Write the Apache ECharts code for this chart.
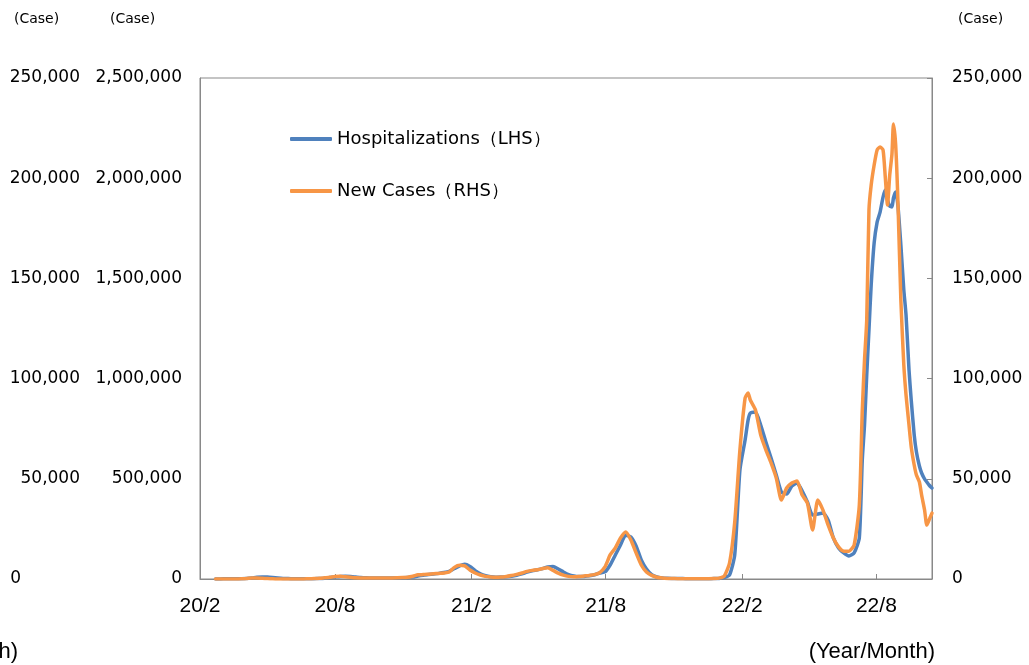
<!DOCTYPE html>
<html lang="en" style="height: 100%">
<head>
  <meta charset="utf-8">
</head>
<body style="height: 100%; margin: 0">
  <div id="container" style="width: 1029px; height: 665px"></div>

  <script type="text/javascript" src="https://fastly.jsdelivr.net/npm/echarts@6/dist/echarts.min.js"></script>

  <script type="text/javascript">
    // 日付（週次、2022年夏は細かめ）
    var dates = [
      '2020-02-22','2020-02-29','2020-03-07','2020-03-14','2020-03-21','2020-03-28','2020-04-04','2020-04-11','2020-04-18','2020-04-25',
      '2020-05-02','2020-05-09','2020-05-16','2020-05-23','2020-05-30','2020-06-06','2020-06-13','2020-06-20','2020-06-27','2020-07-04',
      '2020-07-11','2020-07-18','2020-07-25','2020-08-01','2020-08-08','2020-08-15','2020-08-22','2020-08-29','2020-09-05','2020-09-12',
      '2020-09-19','2020-09-26','2020-10-03','2020-10-10','2020-10-17','2020-10-24','2020-10-31','2020-11-07','2020-11-14','2020-11-21',
      '2020-11-28','2020-12-05','2020-12-12','2020-12-19','2020-12-26',
      '2021-01-02','2021-01-09','2021-01-16','2021-01-23','2021-01-30','2021-02-06','2021-02-13','2021-02-20','2021-02-27','2021-03-06',
      '2021-03-13','2021-03-20','2021-03-27','2021-04-03','2021-04-10','2021-04-17','2021-04-24','2021-05-01','2021-05-08','2021-05-15',
      '2021-05-22','2021-05-29','2021-06-05','2021-06-12','2021-06-19','2021-06-26','2021-07-03','2021-07-10','2021-07-17','2021-07-24',
      '2021-07-31','2021-08-07','2021-08-14','2021-08-21','2021-08-28','2021-09-04','2021-09-11','2021-09-18','2021-09-25','2021-10-02',
      '2021-10-09','2021-10-16','2021-10-23','2021-10-30','2021-11-06','2021-11-13','2021-11-20','2021-11-27','2021-12-04','2021-12-11',
      '2021-12-18','2021-12-25',
      '2022-01-01','2022-01-08','2022-01-15','2022-01-22','2022-01-29','2022-02-05','2022-02-09','2022-02-12','2022-02-19','2022-02-26',
      '2022-03-05','2022-03-12','2022-03-19','2022-03-26','2022-04-02','2022-04-09','2022-04-16','2022-04-23','2022-04-30','2022-05-07',
      '2022-05-14','2022-05-21','2022-05-28','2022-06-04','2022-06-11','2022-06-18','2022-06-25','2022-07-02','2022-07-09',
      '2022-07-13','2022-07-16','2022-07-19','2022-07-22','2022-07-25','2022-07-29','2022-08-02','2022-08-06','2022-08-10','2022-08-13',
      '2022-08-16','2022-08-19','2022-08-22','2022-08-24','2022-08-27','2022-08-30','2022-09-03','2022-09-07','2022-09-10','2022-09-14',
      '2022-09-17','2022-09-21','2022-09-24','2022-09-28','2022-10-01','2022-10-05','2022-10-08','2022-10-11','2022-10-15'
    ];

    // 入院治療等を要する者（左軸）
    var hospitalizations = [
      200, 500, 800, 900, 1200, 1800, 3000, 5500, 8500, 10000,
      9500, 7500, 5000, 3000, 2000, 1200, 900, 800, 1000, 1500,
      2500, 4000, 7000, 10000, 13000, 14000, 12500, 10000, 7500, 6000,
      5000, 5000, 5000, 5000, 5200, 5500, 6000, 7000, 10000, 15000,
      19000, 22000, 25000, 28000, 32000,
      38000, 52000, 66000, 73000, 62000, 42000, 26000, 16000, 11000, 9000,
      9500, 11000, 14000, 19000, 26000, 34000, 41000, 46000, 52000, 60000,
      62000, 50000, 35000, 22000, 15000, 12000, 13000, 16000, 21000, 30000,
      35000, 70000, 120000, 170000, 218000, 210000, 165000, 95000, 50000, 22000,
      10000, 5500, 3500, 2800, 2300, 1900, 1700, 1500, 1400, 1400,
      1600, 2000,
      3000, 8000, 20000, 120000, 544000, 694000, 793000, 828000, 833000, 768000,
      684000, 604000, 519000, 434000, 424000, 464000, 479000, 439000, 384000, 319000,
      324000, 329000, 294000, 205000, 155000, 130000, 115000, 130000, 205000,
      594000, 768000, 1018000, 1243000, 1467000, 1677000, 1781000, 1831000, 1906000, 1941000,
      1891000, 1861000, 1856000, 1901000, 1931000, 1866000, 1667000, 1442000, 1317000, 1043000,
      893000, 719000, 634000, 564000, 529000, 499000, 484000, 469000, 454000
    ];

    // 新規陽性者数（右軸）
    var newCases = [
      20, 30, 40, 40, 50, 150, 300, 550, 500, 350,
      200, 80, 30, 25, 40, 40, 50, 60, 100, 200,
      350, 600, 850, 1200, 1350, 1100, 900, 650, 550, 500,
      450, 500, 530, 550, 550, 600, 700, 900, 1400, 2100,
      2200, 2400, 2600, 2800, 3000,
      3500, 5800, 6800, 6500, 4500, 3000, 2000, 1300, 1000, 900,
      1000, 1300, 1700, 2300, 3000, 3800, 4300, 4600, 5200, 5600,
      4300, 2900, 1900, 1300, 1100, 1200, 1500, 1800, 2200, 3200,
      6000, 12000, 15500, 20500, 23500, 19500, 13000, 7000, 3500, 1800,
      900, 500, 300, 250, 150, 150, 130, 110, 120, 130,
      170, 250,
      450, 1500, 8000, 28400, 64400, 90300, 92800, 89300, 84300, 71900,
      64400, 57900, 50400, 39400, 45400, 47900, 48900, 41900, 37900, 24500,
      39400, 34400, 26900, 20500, 16000, 13900, 13900, 16900, 36900,
      84300, 109300, 129200, 184100, 196600, 206600, 214100, 215600, 214100, 200600,
      186600, 201600, 212000, 227000, 216600, 189100, 139200, 106800, 91800, 76800,
      65900, 56900, 51900, 48400, 41900, 34400, 26900, 29400, 32900
    ];

    var tickDates = ['2020-02-01', '2020-08-01', '2021-02-01', '2021-08-01', '2022-02-01', '2022-08-01'];

    var dom = document.getElementById('container');
    var myChart = echarts.init(dom, null, { renderer: 'canvas' });

    function toTime(s) {
      var p = s.split('-');
      return Date.UTC(+p[0], +p[1] - 1, +p[2]);
    }
    var tickValues = tickDates.map(toTime);

    var labelFont = 'DejaVu Sans';
    var narrowFont = "'Liberation Sans Narrow', 'Liberation Sans', sans-serif";
    var axisGray = '#898989';

    var option = {
      animation: false,
      backgroundColor: '#fff',
      grid: {
        left: 200,
        right: 97,
        top: 78,
        bottom: 86,
        show: true,
        borderColor: axisGray,
        borderWidth: 1
      },
      legend: {
        orient: 'vertical',
        left: 285,
        top: 124,
        itemWidth: 42,
        itemHeight: 4,
        itemGap: 32,
        icon: 'roundRect',
        textStyle: { fontFamily: labelFont, fontSize: 18, color: '#000', lineHeight: 20 },
        data: ['Hospitalizations（LHS）', 'New Cases（RHS）']
      },
      xAxis: {
        type: 'value',
        min: toTime('2020-02-01'),
        max: toTime('2022-10-15'),
        splitLine: { show: false },
        axisLine: { onZero: false, lineStyle: { color: axisGray } },
        axisTick: {
          show: true,
          inside: true,
          length: 5,
          lineStyle: { color: axisGray },
          customValues: tickValues
        },
        axisLabel: {
          customValues: tickValues,
          margin: 17,
          fontFamily: narrowFont,
          fontSize: 21,
          color: '#000',
          formatter: function (v) {
            var d = new Date(v);
            return String(d.getUTCFullYear()).slice(2) + '/' + (d.getUTCMonth() + 1);
          }
        }
      },
      yAxis: [
        {
          type: 'value',
          position: 'left',
          min: 0,
          max: 2500000,
          interval: 500000,
          splitLine: { show: false },
          axisLine: { show: true, lineStyle: { color: axisGray } },
          axisTick: { show: false },
          axisLabel: {
            margin: 18,
            fontFamily: labelFont,
            fontSize: 17,
            color: '#000',
            formatter: function (v) { return v.toLocaleString('en-US'); }
          }
        },
        {
          type: 'value',
          position: 'left',
          offset: 102,
          min: 0,
          max: 250000,
          interval: 50000,
          splitLine: { show: false },
          axisLine: { show: false },
          axisTick: { show: false },
          axisLabel: {
            margin: 18,
            fontFamily: labelFont,
            fontSize: 17,
            color: '#000',
            formatter: function (v) {
              return v === 0 ? '{z|0}' : v.toLocaleString('en-US');
            },
            rich: {
              z: { fontFamily: labelFont, fontSize: 17, color: '#000', padding: [0, 59, 0, 0] }
            }
          }
        },
        {
          type: 'value',
          position: 'right',
          min: 0,
          max: 250000,
          interval: 50000,
          splitLine: { show: false },
          axisLine: { show: true, lineStyle: { color: axisGray } },
          axisTick: { show: true, inside: true, length: 5, lineStyle: { color: axisGray } },
          axisLabel: {
            margin: 20,
            fontFamily: labelFont,
            fontSize: 17,
            color: '#000',
            formatter: function (v) { return v.toLocaleString('en-US'); }
          }
        }
      ],
      graphic: [
        { type: 'text', left: 14, top: 12, style: { text: '(Case)', font: '14px "DejaVu Sans"', fill: '#000' } },
        { type: 'text', left: 110, top: 12, style: { text: '(Case)', font: '14px "DejaVu Sans"', fill: '#000' } },
        { type: 'text', left: 958, top: 12, style: { text: '(Case)', font: '14px "DejaVu Sans"', fill: '#000' } },
        { type: 'text', right: 94, top: 641, style: { text: '(Year/Month)', font: '22px ' + narrowFont, fill: '#000' } },
        { type: 'text', x: 18, y: 641, style: { text: '(Year/Month)', align: 'right', font: '22px ' + narrowFont, fill: '#000' } }
      ],
      series: [
        {
          name: 'Hospitalizations（LHS）',
          type: 'line',
          yAxisIndex: 0,
          showSymbol: false,
          smooth: 0.2,
          color: '#4F81BD',
          lineStyle: { width: 3.5, cap: 'round', join: 'round' },
          data: dates.map(function (d, i) { return [toTime(d), hospitalizations[i]]; })
        },
        {
          name: 'New Cases（RHS）',
          type: 'line',
          yAxisIndex: 2,
          showSymbol: false,
          smooth: 0.2,
          color: '#F79646',
          lineStyle: { width: 3.5, cap: 'round', join: 'round' },
          data: dates.map(function (d, i) { return [toTime(d), newCases[i]]; })
        }
      ]
    };

    myChart.setOption(option);
    window.addEventListener('resize', myChart.resize);
  </script>
</body>
</html>
